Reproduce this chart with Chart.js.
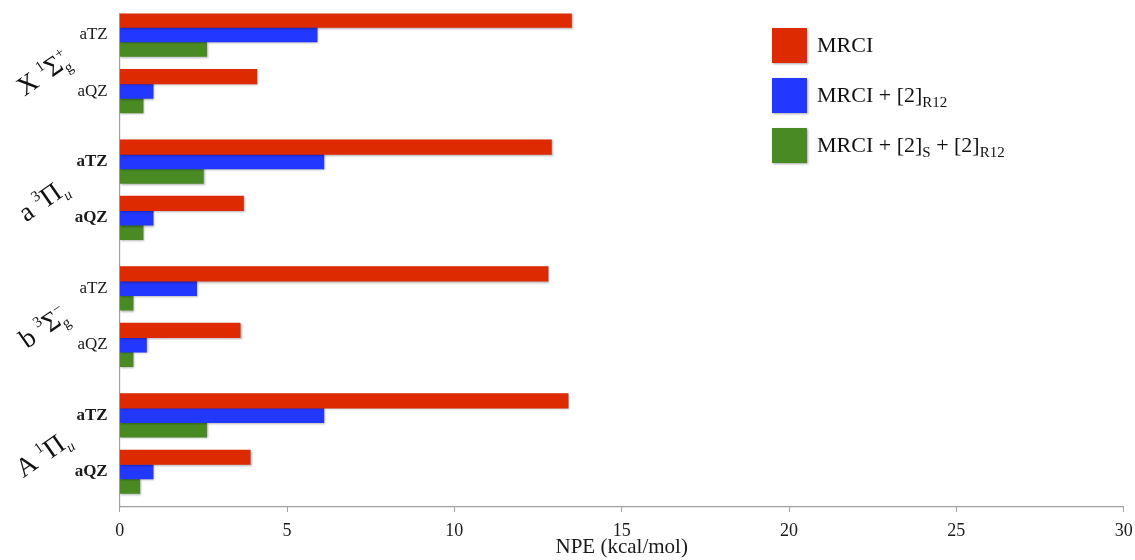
<!DOCTYPE html>
<html>
<head>
<meta charset="utf-8">
<script src="https://cdn.jsdelivr.net/npm/chart.js@4/dist/chart.umd.min.js"></script>
<style>
  html, body { margin: 0; padding: 0; background: #fff; }
  #wrap { width: 1135px; height: 560px; }
</style>
</head>
<body>
<div id="wrap"><canvas id="c" width="1135" height="560"></canvas></div>
<script>
// Basis sets shown for every electronic state
const basisSets = ['aTZ', 'aQZ'];

// Electronic states (rich text: [text, kind])
const stateLabels = [
  [['X ', ''], ['1', 'sup'], ['Σ', ''], ['g', 'sub'], ['+', 'supStack']],
  [['a ', ''], ['3', 'sup'], ['Π', ''], ['u', 'subI']],
  [['b ', ''], ['3', 'sup'], ['Σ', ''], ['g', 'sub'], ['−', 'supStack']],
  [['A ', ''], ['1', 'sup'], ['Π', ''], ['u', 'subI']]
];
// basis labels printed in bold for these states
const boldBasisForState = [false, true, false, true];

// Series
const seriesNames = ['MRCI', 'MRCI + [2]R12', 'MRCI + [2]S + [2]R12'];
const seriesLegend = [
  [['MRCI', '']],
  [['MRCI + [2]', ''], ['R12', 'sub']],
  [['MRCI + [2]', ''], ['S', 'sub'], [' + [2]', ''], ['R12', 'sub']]
];
const seriesColors = ['#DE2A00', '#2238FF', '#4A8A23'];

// NPE values (kcal/mol), order: X aTZ, X aQZ, a aTZ, a aQZ, b aTZ, b aQZ, A aTZ, A aQZ
const mrci     = [13.5, 4.1, 12.9, 3.7, 12.8, 3.6, 13.4, 3.9];
const mrciR12  = [5.9, 1.0, 6.1, 1.0, 2.3, 0.8, 6.1, 1.0];
const mrciSR12 = [2.6, 0.7, 2.5, 0.7, 0.4, 0.4, 2.6, 0.6];

// x axis
const xTicks = [0, 5, 10, 15, 20, 25, 30];
const xTitle = 'NPE (kcal/mol)';

// ---- category slots: spacers keep the states apart ----
const LEAD = 1, STEP_IN = 4, STEP_GROUP = 9, TRAIL = 2;
const slotOf = (s, b) => LEAD + s * STEP_GROUP + b * STEP_IN;
const nSlots = slotOf(stateLabels.length - 1, basisSets.length - 1) + 1 + TRAIL;
const slotLabels = new Array(nSlots).fill('');
const slotState = new Array(nSlots).fill(-1);
stateLabels.forEach((_, s) => basisSets.forEach((b, j) => {
  slotLabels[slotOf(s, j)] = b;
  slotState[slotOf(s, j)] = s;
}));
function toSlots(values) {
  const out = new Array(nSlots).fill(null);
  stateLabels.forEach((_, s) => basisSets.forEach((b, j) => {
    out[slotOf(s, j)] = values[s * basisSets.length + j];
  }));
  return out;
}

const SERIF = '"Liberation Serif", "DejaVu Serif", serif';
Chart.defaults.font.family = SERIF;
Chart.defaults.color = '#1a1a1a';

// rich text: sub / sup / stacked sup, optional italic
function drawRich(ctx, segs, x, y, base, small, draw) {
  let cx = x, lastSubX = x;
  segs.forEach(([t, kind]) => {
    let size = base, dy = 0, style = '';
    if (kind.startsWith('sub')) { size = small; dy = base * 0.22; }
    if (kind.startsWith('sup')) { size = small; dy = -base * 0.42; }
    if (kind.endsWith('I')) style = 'italic ';
    ctx.font = style + size + 'px ' + SERIF;
    const px = kind === 'supStack' ? lastSubX : cx;
    if (draw) ctx.fillText(t, px, y + dy);
    const w = ctx.measureText(t).width;
    if (kind.startsWith('sub')) lastSubX = px;
    cx = kind === 'supStack' ? Math.max(cx, px + w) : px + w;
  });
  return cx - x;
}

const barShadow = {
  id: 'barShadow',
  beforeDatasetsDraw(chart) {
    const ctx = chart.ctx;
    ctx.save();
    ctx.shadowColor = 'rgba(0,0,0,0.30)';
    ctx.shadowBlur = 2;
    ctx.shadowOffsetX = 1;
    ctx.shadowOffsetY = 1;
  },
  afterDatasetsDraw(chart) { chart.ctx.restore(); }
};

const stateTitles = {
  id: 'stateTitles',
  afterDraw(chart) {
    const ctx = chart.ctx, y = chart.scales.y;
    ctx.save();
    ctx.fillStyle = '#111';
    ctx.textBaseline = 'alphabetic';
    stateLabels.forEach((segs, s) => {
      const ys = basisSets.map((_, j) => y.getPixelForValue(slotOf(s, j)));
      const cy = ys.reduce((a, b) => a + b, 0) / ys.length + 10;
      const w = drawRich(ctx, segs, 0, 0, 27, 15, false);
      ctx.save();
      ctx.translate(43, cy);
      ctx.rotate(-35 * Math.PI / 180);
      drawRich(ctx, segs, -w / 2, 9, 27, 15, true);
      ctx.restore();
    });
    ctx.restore();
  }
};

const sideLegend = {
  id: 'sideLegend',
  afterDraw(chart) {
    const ctx = chart.ctx;
    seriesLegend.forEach((segs, i) => {
      const top = 28 + i * 50;
      ctx.save();
      ctx.shadowColor = 'rgba(0,0,0,0.35)';
      ctx.shadowBlur = 2;
      ctx.shadowOffsetX = 1;
      ctx.shadowOffsetY = 1;
      ctx.fillStyle = seriesColors[i];
      ctx.fillRect(772, top, 35, 35);
      ctx.restore();
      ctx.save();
      ctx.fillStyle = '#111';
      ctx.textBaseline = 'alphabetic';
      drawRich(ctx, segs, 817, top + 24, 22, 15, true);
      ctx.restore();
    });
  }
};

const datasets = [mrci, mrciR12, mrciSR12].map((vals, i) => ({
  label: seriesNames[i],
  data: toSlots(vals),
  backgroundColor: seriesColors[i],
  borderWidth: 0,
  barThickness: 14.5,
  skipNull: false
}));

new Chart(document.getElementById('c'), {
  type: 'bar',
  data: { labels: slotLabels, datasets },
  plugins: [barShadow, stateTitles, sideLegend],
  options: {
    indexAxis: 'y',
    responsive: false,
    animation: false,
    devicePixelRatio: 1,
    layout: { padding: { top: 13.5, right: 11.3, bottom: 0, left: 0 } },
    plugins: { legend: { display: false }, tooltip: { enabled: false } },
    scales: {
      x: {
        type: 'linear',
        min: xTicks[0],
        max: xTicks[xTicks.length - 1],
        afterBuildTicks(s) { s.ticks = xTicks.map(v => ({ value: v })); },
        ticks: { font: { size: 18 }, color: '#1a1a1a', padding: 8 },
        grid: { drawOnChartArea: false, drawTicks: true, tickLength: 5, color: '#a0a0a0' },
        border: { display: true, color: '#a0a0a0', width: 1.2 },
        title: { display: true, text: xTitle, font: { size: 21 }, color: '#1a1a1a', padding: { top: 0, bottom: 0 } },
        afterFit(s) { s.height = 53; s.paddingLeft = 0; s.paddingRight = 0; }
      },
      y: {
        type: 'category',
        offset: true,
        ticks: {
          autoSkip: false,
          padding: 12,
          color: '#1a1a1a',
          font: (c) => ({
            size: 17,
            weight: slotState[c.index] >= 0 && boldBasisForState[slotState[c.index]] ? 'bold' : 'normal'
          })
        },
        grid: { display: false, drawTicks: false },
        border: { display: true, color: '#a0a0a0', width: 1.2 },
        afterFit(s) { s.width = 119.7; s.paddingTop = 0; s.paddingBottom = 0; }
      }
    }
  }
});
</script>
</body>
</html>
